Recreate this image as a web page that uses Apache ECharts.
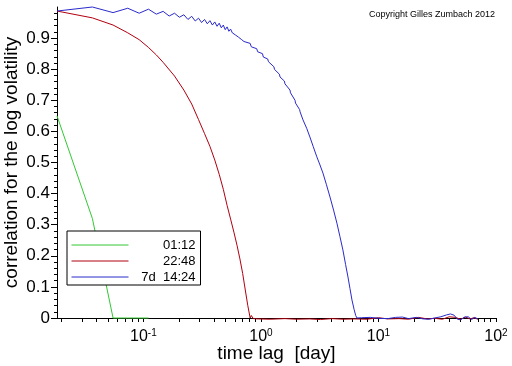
<!DOCTYPE html>
<html>
<head>
<meta charset="utf-8">
<script src="https://cdn.jsdelivr.net/npm/echarts@6/dist/echarts.min.js"></script>
<style>
  html, body { margin: 0; padding: 0; background: #ffffff; }
  #chart { width: 512px; height: 366px; }
</style>
</head>
<body>
<div id="chart"></div>
<script>
// ---- data (time lag in days, correlation values) ----
const seriesNames = ['01:12', '22:48', '7d  14:24'];

const greenLag = [0.0184, 0.0368, 0.0552, 0.0736, 0.092, 0.1104];
const greenVal = [0.650, 0.320, 0.000, 0.000, 0.000, 0.000];

const redLag = [0.0184, 0.0368, 0.0552, 0.0736, 0.092, 0.1104, 0.1288, 0.1472, 0.184, 0.2208,
  0.2576, 0.2944, 0.3312, 0.368, 0.4048, 0.4416, 0.4784, 0.5152, 0.552, 0.5888,
  0.6256, 0.6624, 0.6992, 0.736, 0.7728, 0.8096, 0.828, 0.86, 0.95, 1.2,
  1.6, 2.0, 2.6, 3.2, 4.0, 5.0, 6.2, 8.0, 10, 12,
  15, 18, 22, 26, 30, 35, 40, 45, 50, 55, 60, 65, 70];
const redVal = [0.987, 0.965, 0.942, 0.917, 0.895, 0.870, 0.846, 0.822, 0.778, 0.733,
  0.688, 0.638, 0.593, 0.552, 0.508, 0.462, 0.414, 0.362, 0.318, 0.276,
  0.234, 0.190, 0.143, 0.090, 0.040, 0.000, 0.008, -0.002, -0.003, -0.004,
  -0.002, -0.004, -0.003, -0.005, -0.002, -0.004, -0.003, -0.004, 0.001, -0.003,
  -0.002, -0.004, 0.002, -0.003, -0.001, -0.004, 0.004, 0.002, -0.004, 0.003, -0.003, 0.001, -0.004];

const blueLag = [0.0184, 0.0368, 0.0552, 0.0736, 0.092, 0.1104, 0.1288, 0.1472, 0.1656, 0.184,
  0.2024, 0.2208, 0.2392, 0.2576, 0.276, 0.2944, 0.3128, 0.3312, 0.3496, 0.368,
  0.3864, 0.4048, 0.4232, 0.4416, 0.46, 0.4784, 0.4968, 0.5152, 0.5336, 0.552,
  0.5704, 0.5888, 0.6072, 0.6256, 0.644, 0.6624, 0.6808, 0.6992, 0.7176, 0.736,
  0.8096, 0.828, 0.92, 0.9384, 1.0304, 1.0488, 1.1408, 1.1592, 1.288, 1.3064,
  1.4352, 1.4536, 1.5824, 1.6008, 1.7664, 1.7848, 1.9504, 1.9688, 2.1344, 2.1528,
  2.28, 2.45, 2.61, 2.78, 2.99, 3.18, 3.37, 3.6, 3.87, 4.15,
  4.43, 4.7, 4.98, 5.25, 5.5, 5.72, 5.95, 6.2, 6.4, 6.56,
  7.2, 8.5, 10, 12, 14, 16, 18, 21, 24, 27,
  30, 34, 38, 41, 44, 47, 50, 54, 58, 62, 66, 70];
const blueVal = [0.987, 1.000, 0.982, 0.996, 0.980, 0.993, 0.977, 0.986, 0.971, 0.980,
  0.967, 0.975, 0.960, 0.970, 0.955, 0.964, 0.950, 0.960, 0.946, 0.956,
  0.942, 0.952, 0.938, 0.948, 0.933, 0.942, 0.927, 0.936, 0.922, 0.929,
  0.917, 0.921, 0.910, 0.914, 0.903, 0.908, 0.896, 0.901, 0.889, 0.894,
  0.883, 0.872, 0.866, 0.856, 0.850, 0.839, 0.833, 0.824, 0.808, 0.799,
  0.784, 0.775, 0.762, 0.753, 0.733, 0.724, 0.700, 0.691, 0.670, 0.663,
  0.637, 0.610, 0.582, 0.552, 0.518, 0.492, 0.466, 0.430, 0.389, 0.347,
  0.305, 0.262, 0.219, 0.172, 0.132, 0.095, 0.058, 0.028, 0.008, 0.000,
  0.001, 0.002, -0.001, -0.002, 0.002, 0.003, -0.002, 0.002, -0.003, -0.004,
  0.000, 0.004, 0.010, 0.013, 0.009, -0.004, -0.006, 0.003, 0.004, -0.005, 0.002, -0.003];

// ---- axis ticks / labels ----
const xLabelValues = [0.1, 1, 10, 100];
const xTickValues = [0.02, 0.03, 0.04, 0.05, 0.06, 0.07, 0.08, 0.09,
  0.1, 0.2, 0.3, 0.4, 0.5, 0.6, 0.7, 0.8, 0.9,
  1, 2, 3, 4, 5, 6, 7, 8, 9,
  10, 20, 30, 40, 50, 60, 70, 80, 90, 100];
const yLabelValues = [0, 0.1, 0.2, 0.3, 0.4, 0.5, 0.6, 0.7, 0.8, 0.9];

function pairs(xs, ys) { return xs.map((x, i) => [x, ys[i]]); }

const FONT = "'Liberation Sans', Arial, Helvetica, sans-serif";
const chart = echarts.init(document.getElementById('chart'), null, { renderer: 'canvas' });

chart.setOption({
  animation: false,
  backgroundColor: '#ffffff',
  grid: { left: 57, right: 16, top: 7, bottom: 48, containLabel: false, outerBoundsMode: 'none' },
  legend: {
    orient: 'vertical',
    left: 67, top: 231,
    padding: [6, 5, 0, 4],
    itemGap: 0,
    itemWidth: 57,
    itemHeight: 16,
    borderColor: '#000000',
    borderWidth: 1,
    borderRadius: 0,
    backgroundColor: '#ffffff',
    itemStyle: { color: 'rgba(0,0,0,0)', borderWidth: 0, opacity: 0 },
    lineStyle: { width: 1 },
    textStyle: { fontFamily: FONT, fontSize: 13, color: '#000', lineHeight: 16,
      rich: { t: { width: 62, align: 'right', fontFamily: FONT, fontSize: 13, lineHeight: 16 } } },
    formatter: name => '{t|' + name + '}',
    data: seriesNames
  },
  graphic: [{
    type: 'text', left: 369, top: 10,
    style: { text: 'Copyright Gilles Zumbach 2012', font: "9px 'Liberation Sans', Arial, sans-serif", fill: '#000' }
  }],
  xAxis: {
    type: 'log', logBase: 10, min: 0.0184, max: 100,
    name: 'time lag  [day]', nameLocation: 'middle', nameGap: 26, nameMoveOverlap: false,
    nameTextStyle: { fontFamily: FONT, fontSize: 19, color: '#000' },
    axisLine: { onZero: true, lineStyle: { color: '#000', width: 1 } },
    axisTick: { show: true, inside: false, length: 4, customValues: xTickValues, lineStyle: { color: '#000' } },
    axisLabel: {
      customValues: xLabelValues, margin: 10, color: '#000',
      formatter: v => '{b|10}{s|' + Math.round(Math.log10(v)) + '}',
      rich: {
        b: { fontFamily: FONT, fontSize: 16, lineHeight: 18, color: '#000' },
        s: { fontFamily: FONT, fontSize: 10, lineHeight: 10, verticalAlign: 'top', color: '#000' }
      }
    },
    splitLine: { show: false },
    minorTick: { show: false },
    minorSplitLine: { show: false }
  },
  yAxis: {
    type: 'value', min: 0, max: 1, interval: 0.1,
    name: 'correlation for the log volatility', nameLocation: 'middle', nameGap: 36, nameMoveOverlap: false,
    nameTextStyle: { fontFamily: FONT, fontSize: 19, color: '#000' },
    axisLine: { show: true, onZero: false, lineStyle: { color: '#000', width: 1 } },
    axisTick: { show: true, inside: false, length: 6, customValues: yLabelValues, lineStyle: { color: '#000' } },
    minorTick: { show: true, splitNumber: 5, length: 3, lineStyle: { color: '#000' } },
    axisLabel: {
      customValues: yLabelValues, margin: 7, color: '#000',
      fontFamily: FONT, fontSize: 17,
      formatter: v => String(v)
    },
    splitLine: { show: false }
  },
  series: [
    { name: seriesNames[0], type: 'line', data: pairs(greenLag, greenVal), symbol: 'none', clip: false,
      lineStyle: { color: '#33c833', width: 1 }, itemStyle: { color: '#33c833' } },
    { name: seriesNames[1], type: 'line', data: pairs(redLag, redVal), symbol: 'none', clip: false,
      lineStyle: { color: '#b00010', width: 1 }, itemStyle: { color: '#b00010' } },
    { name: seriesNames[2], type: 'line', data: pairs(blueLag, blueVal), symbol: 'none', clip: false,
      lineStyle: { color: '#2a2acc', width: 1 }, itemStyle: { color: '#2a2acc' } }
  ]
});
</script>
</body>
</html>
